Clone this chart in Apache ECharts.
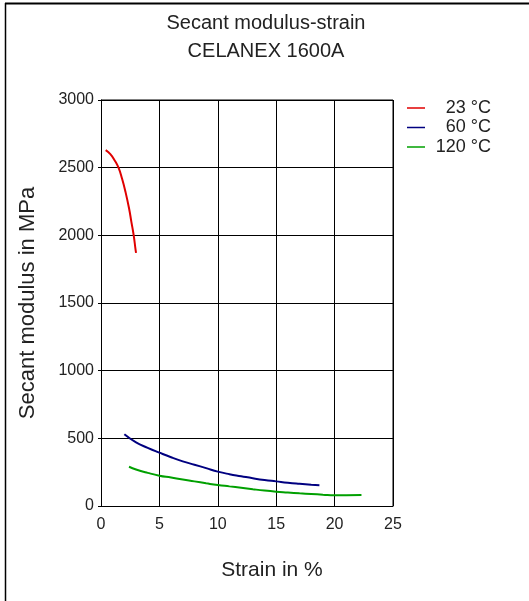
<!DOCTYPE html>
<html><head><meta charset="utf-8">
<script src="https://cdn.jsdelivr.net/npm/echarts@6/dist/echarts.min.js"></script>
<style>html,body{margin:0;padding:0;background:#fff}#c{width:529px;height:601px}</style>
</head><body><div id="c"></div>
<script>
const titleLines = ['Secant modulus-strain', 'CELANEX 1600A'];
const xTicks = [0, 5, 10, 15, 20, 25];
const yTicks = [0, 500, 1000, 1500, 2000, 2500, 3000];
const seriesNames = ['23 °C', '60 °C', '120 °C'];
const seriesColors = ['#e00000', '#000080', '#00a000'];
const s23 = [[0.4,2630],[0.8,2600],[1.2,2550],[1.5,2500],[1.8,2420],[2.1,2320],[2.4,2200],[2.6,2100],[2.8,2000],[2.95,1900],[3.0,1870]];
const s60 = [[2.0,530],[3,470],[4,430],[5,394],[6,360],[7,330],[8,305],[9,280],[10,254],[11,235],[12,220],[13,205],[14,192],[15,182],[16,172],[17,164],[18,157],[18.7,153]];
const s120 = [[2.4,290],[3,270],[4,245],[5,224],[6,210],[7,195],[8,182],[9,168],[10,155],[11,145],[12,135],[13,124],[14,114],[15,106],[16,100],[17,94],[18,89],[19,84],[20,80],[21,80],[22.3,81]];
const seriesData = [s23, s60, s120];

const font = 'Liberation Sans, Arial, sans-serif';
const txt = '#222';
const chart = echarts.init(document.getElementById('c'));
chart.setOption({
  animation: false,
  backgroundColor: '#fff',
  title: {
    text: titleLines.join('\n'),
    left: 261, top: 4, textAlign: 'center',
    textStyle: {fontFamily: font, fontSize: 20, fontWeight: 'normal', color: txt, lineHeight: 28}
  },
  legend: {
    orient: 'vertical', left: 407, top: 99, padding: 0,
    itemWidth: 18, itemHeight: 1.5, itemGap: 1.5, itemTextGap: 5,
    icon: 'rect',
    data: seriesNames,
    formatter: n => '{a|' + n + '}',
    textStyle: {fontFamily: font, fontSize: 18, color: txt,
      rich: {a: {fontFamily: font, fontSize: 18, color: txt, width: 61, align: 'right'}}}
  },
  grid: {left: 101, top: 100, right: 136, bottom: 95},
  xAxis: {
    type: 'value', min: 0, max: 25, interval: 5,
    name: 'Strain in %', nameLocation: 'middle', nameGap: 54,
    nameTextStyle: {fontFamily: font, fontSize: 21, color: txt, padding: [0, 0, 0, 50]},
    axisLine: {show: true, lineStyle: {color: '#000', width: 1}},
    axisTick: {show: false},
    axisLabel: {fontFamily: font, fontSize: 16, color: txt, margin: 11},
    splitLine: {show: true, lineStyle: {color: '#000', width: 1}}
  },
  yAxis: {
    type: 'value', min: 0, max: 3000, interval: 500,
    name: 'Secant modulus in MPa', nameLocation: 'middle', nameGap: 62, nameRotate: 90,
    nameTextStyle: {fontFamily: font, fontSize: 22, color: txt},
    axisLine: {show: true, lineStyle: {color: '#000', width: 1}},
    axisTick: {show: true, length: 3, lineStyle: {color: '#000'}},
    axisLabel: {fontFamily: font, fontSize: 16, color: txt, margin: 7, formatter: v => String(v)},
    splitLine: {show: true, lineStyle: {color: '#000', width: 1}}
  },
  series: seriesData.map((d, i) => ({
    name: seriesNames[i], type: 'line', data: d, smooth: true, showSymbol: false,
    lineStyle: {color: seriesColors[i], width: 2}, itemStyle: {color: seriesColors[i]}
  })),
  graphic: [
    {type: 'line', shape: {x1: 5, y1: 3.5, x2: 529, y2: 3.5}, style: {stroke: '#000', lineWidth: 2}},
    {type: 'line', shape: {x1: 5.5, y1: 3, x2: 5.5, y2: 601}, style: {stroke: '#000', lineWidth: 1.5}},
    {type: 'line', shape: {x1: 393, y1: 100, x2: 393, y2: 506}, style: {stroke: '#000', lineWidth: 1}},
    {type: 'line', shape: {x1: 101, y1: 100, x2: 393, y2: 100}, style: {stroke: '#000', lineWidth: 1}}
  ]
});
</script></body></html>
